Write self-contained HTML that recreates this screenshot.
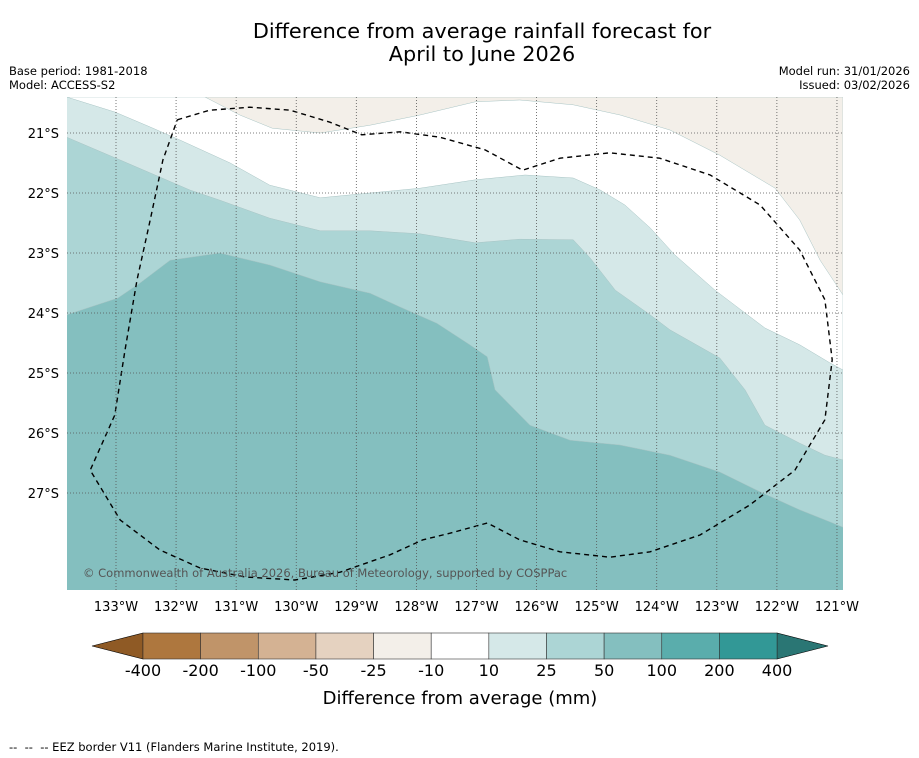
<!DOCTYPE html>
<html><head><meta charset="utf-8"><style>
body{margin:0;background:#fff;width:919px;height:758px;overflow:hidden;font-family:"Liberation Sans","DejaVu Sans",sans-serif}
svg{display:block}
</style></head><body>
<svg id="c" width="919" height="758" font-family="DejaVu Sans, Liberation Sans, sans-serif">
<text x="482" y="38" font-size="20.8" text-anchor="middle">Difference from average rainfall forecast for</text>
<text x="482" y="61" font-size="20.8" text-anchor="middle">April to June 2026</text>
<text x="9" y="75" font-size="11.5">Base period: 1981-2018</text>
<text x="9" y="89" font-size="11.5">Model: ACCESS-S2</text>
<text x="910" y="75" font-size="11.5" text-anchor="end">Model run: 31/01/2026</text>
<text x="910" y="89" font-size="11.5" text-anchor="end">Issued: 03/02/2026</text>
<defs><clipPath id="mc"><rect x="67" y="97" width="776" height="493"/></clipPath></defs>
<g id="map" clip-path="url(#mc)"></g>
<g id="grid"></g>
<g id="axes"></g>
<text x="83" y="577" font-size="11.5" fill="#555">© Commonwealth of Australia 2026, Bureau of Meteorology, supported by COSPPac</text>
<g id="cbar"></g>
<text x="460" y="704" font-size="18" text-anchor="middle">Difference from average (mm)</text>
<text x="9" y="751" font-size="11.5" style="white-space:pre">--  --  -- EEZ border V11 (Flanders Marine Institute, 2019).</text>
</svg>
<script>
const lonTicks=[-133,-132,-131,-130,-129,-128,-127,-126,-125,-124,-123,-122,-121];
const latTicks=[-21,-22,-23,-24,-25,-26,-27];
const cbLabels=["-400","-200","-100","-50","-25","-10","10","25","50","100","200","400"];
const cbColors=["#ae773e","#c09469","#d4b293","#e5d2c0","#f3efe9","#ffffff","#d5e8e8","#acd5d5","#84bfbf","#5aadac","#329896"];
const bandBeigeLon=[-131.52,-130.94,-130.40,-129.60,-128.77,-127.94,-127.02,-126.28,-125.39,-124.61,-123.78,-122.95,-122.03,-121.62,-121.28,-120.9,-120.9];
const bandBeigeLat=[-20.4,-20.7,-20.92,-21.0,-20.87,-20.7,-20.48,-20.45,-20.53,-20.7,-20.95,-21.37,-21.92,-22.45,-23.12,-23.7,-20.4];
const band10Lon=[-133.82,-133.02,-132.43,-131.93,-131.10,-130.44,-129.60,-128.77,-127.94,-127.02,-126.19,-125.39,-124.94,-124.53,-124.11,-123.70,-123.03,-122.70,-122.20,-121.62,-121.12,-120.9];
const band10Lat=[-20.4,-20.65,-20.9,-21.12,-21.5,-21.87,-22.08,-22.0,-21.92,-21.78,-21.7,-21.75,-21.95,-22.2,-22.58,-23.03,-23.62,-23.87,-24.25,-24.53,-24.83,-24.95];
const band25Lon=[-133.82,-132.93,-131.77,-131.27,-130.44,-129.60,-128.77,-127.94,-127.02,-126.28,-125.39,-125.11,-124.69,-124.11,-123.78,-122.95,-122.53,-122.20,-121.62,-121.20,-120.9];
const band25Lat=[-21.07,-21.45,-21.95,-22.12,-22.42,-22.63,-22.63,-22.68,-22.83,-22.77,-22.78,-23.08,-23.62,-24.03,-24.28,-24.75,-25.28,-25.87,-26.17,-26.37,-26.45];
const band50Lon=[-133.82,-132.97,-132.60,-132.10,-131.27,-130.44,-129.60,-128.77,-128.27,-127.66,-127.11,-126.82,-126.69,-126.11,-125.44,-124.61,-123.78,-122.95,-122.28,-121.62,-121.12,-120.9];
const band50Lat=[-24.03,-23.75,-23.5,-23.12,-23.0,-23.2,-23.48,-23.67,-23.9,-24.17,-24.53,-24.73,-25.28,-25.87,-26.12,-26.2,-26.37,-26.65,-26.98,-27.28,-27.48,-27.57];
const eezLon=[-131.98,-131.44,-130.77,-130.10,-129.44,-128.91,-128.27,-127.61,-126.86,-126.23,-125.61,-124.78,-123.95,-123.11,-122.28,-121.62,-121.20,-121.08,-121.20,-121.70,-122.45,-123.28,-124.11,-124.78,-125.61,-126.28,-126.82,-127.44,-127.89,-128.44,-129.27,-130.02,-130.85,-131.60,-132.27,-132.93,-133.43,-133.02,-132.85,-132.65,-132.43,-132.22,-131.98];
const eezLat=[-20.78,-20.62,-20.57,-20.62,-20.82,-21.03,-20.98,-21.07,-21.28,-21.62,-21.42,-21.33,-21.42,-21.7,-22.2,-22.95,-23.78,-24.78,-25.78,-26.62,-27.2,-27.7,-27.98,-28.07,-27.98,-27.78,-27.5,-27.67,-27.78,-28.03,-28.32,-28.45,-28.4,-28.25,-27.95,-27.45,-26.62,-25.7,-24.62,-23.45,-22.45,-21.45,-20.78];
const X=lon=>116+(lon+133)*60.08, Y=lat=>133+(-21-lat)*60;
const NS="http://www.w3.org/2000/svg";
function mk(t,a,p){const e=document.createElementNS(NS,t);for(const k in a)e.setAttribute(k,a[k]);p.appendChild(e);return e;}
const map=document.getElementById('map');
let r=mk('rect',{x:67,y:97,width:776,height:493,fill:'#84bfbf'},map);


function band(lons,lats,fill,close,name){
 let pts=lons.map((l,i)=>X(l).toFixed(1)+','+Y(lats[i]).toFixed(1));
 if(close)pts=pts.concat([X(-120.9)+','+Y(-20.4),X(-133.82)+','+Y(-20.4)]);
 const p=mk('polygon',{points:pts.join(' '),fill:fill,stroke:'#a8c4c4','stroke-width':0.5},map);
 
 
}
band(band50Lon,band50Lat,'#acd5d5',true,'band-25-50');
band(band25Lon,band25Lat,'#d5e8e8',true,'band-10-25');
band(band10Lon,band10Lat,'#ffffff',true,'band-neutral');
band(bandBeigeLon,bandBeigeLat,'#f3efe9',false,'band-minus25-minus10');
const grid=document.getElementById('grid');
lonTicks.forEach(l=>{const x=X(l);
 const g=mk('line',{x1:x,x2:x,y1:97,y2:590,stroke:'#555','stroke-width':0.8,'stroke-dasharray':'1,2'},grid);
 
 
 const t=mk('text',{x:x,y:611,'font-size':13,'text-anchor':'middle'},grid);t.textContent=(-l)+'°W';
 
 
});
latTicks.forEach(l=>{const y=Y(l);
 const g=mk('line',{x1:67,x2:843,y1:y,y2:y,stroke:'#555','stroke-width':0.8,'stroke-dasharray':'1,2'},grid);
 
 
 const t=mk('text',{x:59,y:y+5,'font-size':13,'text-anchor':'end'},grid);t.textContent=(-l)+'°S';
 
 
});
const e=mk('polyline',{points:eezLon.map((l,i)=>X(l).toFixed(1)+','+Y(eezLat[i]).toFixed(1)).join(' '),fill:'none',stroke:'#000','stroke-width':1.4,'stroke-dasharray':'5,4'},map);


const cb=document.getElementById('cbar');
const x0=143,w=57.64,y0=633,h=26;
let tl=mk('polygon',{points:`92,646 ${x0},${y0} ${x0},${y0+h}`,fill:'#8f5a25',stroke:'#000','stroke-width':0.6},cb);


const xe=x0+w*cbColors.length;
let tr=mk('polygon',{points:`828,646 ${xe},${y0} ${xe},${y0+h}`,fill:'#2a7674',stroke:'#000','stroke-width':0.6},cb);


cbColors.forEach((c,i)=>{const b=mk('rect',{x:x0+i*w,y:y0,width:w,height:h,fill:c,stroke:'#333','stroke-width':0.6},cb);
 
 });
cbLabels.forEach((s,i)=>{const t=mk('text',{x:x0+i*w,y:676,'font-size':16,'text-anchor':'middle'},cb);t.textContent=s;
 
 });
</script>
</body></html>
